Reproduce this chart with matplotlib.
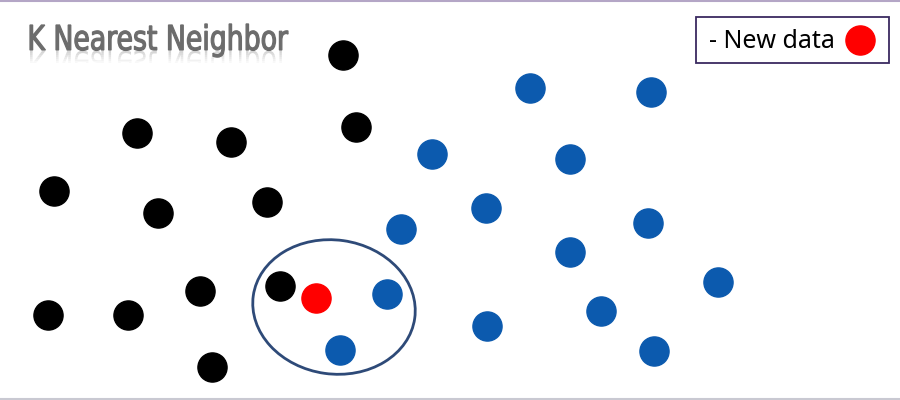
import matplotlib.pyplot as plt
from matplotlib.patches import Ellipse, Rectangle, PathPatch
from matplotlib.textpath import TextPath
from matplotlib.font_manager import FontProperties
from matplotlib.transforms import Affine2D

# point positions (picture units, y down)
black_x = [343, 137, 231, 356, 54, 158, 267, 200, 280, 48, 128, 212]
black_y = [55, 133, 142, 127, 191, 213, 202, 291, 286, 315, 315, 367]
blue_x = [530, 651, 432, 570, 486, 401, 648, 570, 718, 387, 487, 601, 340, 654]
blue_y = [88, 92, 154, 159, 208, 229, 223, 252, 282, 294, 326, 311, 350, 351]
new_x = [316]
new_y = [298]

title = 'K Nearest Neighbor'
legend_text = '- New data'

fig = plt.figure(figsize=(9, 4), dpi=100)
ax = fig.add_axes([0, 0, 1, 1])
ax.set_xlim(0, 900)
ax.set_ylim(400, 0)
ax.axis('off')

size = 440
ax.scatter(black_x, black_y, s=size, color='black', zorder=3)
ax.scatter(blue_x, blue_y, s=size, color='#0C5AAE', zorder=3)
ax.scatter(new_x, new_y, s=size, color='#FF0000', zorder=3)

# neighbourhood ring
ax.add_patch(Ellipse((334, 307), 163, 134, angle=8, fill=False,
                     edgecolor='#2E4A78', linewidth=2, zorder=2))

# legend box
ax.add_patch(Rectangle((696, 17), 193, 46, fill=False,
                       edgecolor='#3A2A60', linewidth=1.3))
ax.text(709, 41, legend_text, fontsize=18, family='Noto Sans',
        va='center', ha='left', color='black')
ax.scatter([860], [40], s=size, color='#FF0000', zorder=3)

# title with a faded reflection
fp = FontProperties(family='DejaVu Sans', stretch='condensed')
tp = TextPath((0, 0), title, size=34, prop=fp)
cap = TextPath((0, 0), 'K', size=34, prop=fp).get_extents()
ext = tp.get_extents()
sx = 258 / ext.width
sy = 25 / cap.height
tr = Affine2D().scale(sx, -sy).translate(30 - ext.x0 * sx, 50)
ax.add_patch(PathPatch(tr.transform_path(tp), facecolor='#6C6C6C',
                       edgecolor='#6C6C6C', lw=0.9, zorder=4))
tr2 = Affine2D().scale(sx, sy).translate(30 - ext.x0 * sx, 51)
refl = tr2.transform_path(tp)
for i in range(6):
    p = PathPatch(refl, color='#6C6C6C', lw=0, alpha=0.28 * (1 - i / 6), zorder=4)
    ax.add_patch(p)
    p.set_clip_path(Rectangle((0, 51 + i * 2), 400, 2, transform=ax.transData))

# frame lines top and bottom
ax.plot([0, 900], [1, 1], color='#B4A6C6', lw=1.5)
ax.plot([0, 900], [398.5, 398.5], color='#C9C9D2', lw=1.5)

fig.savefig('out.png', dpi=100)
